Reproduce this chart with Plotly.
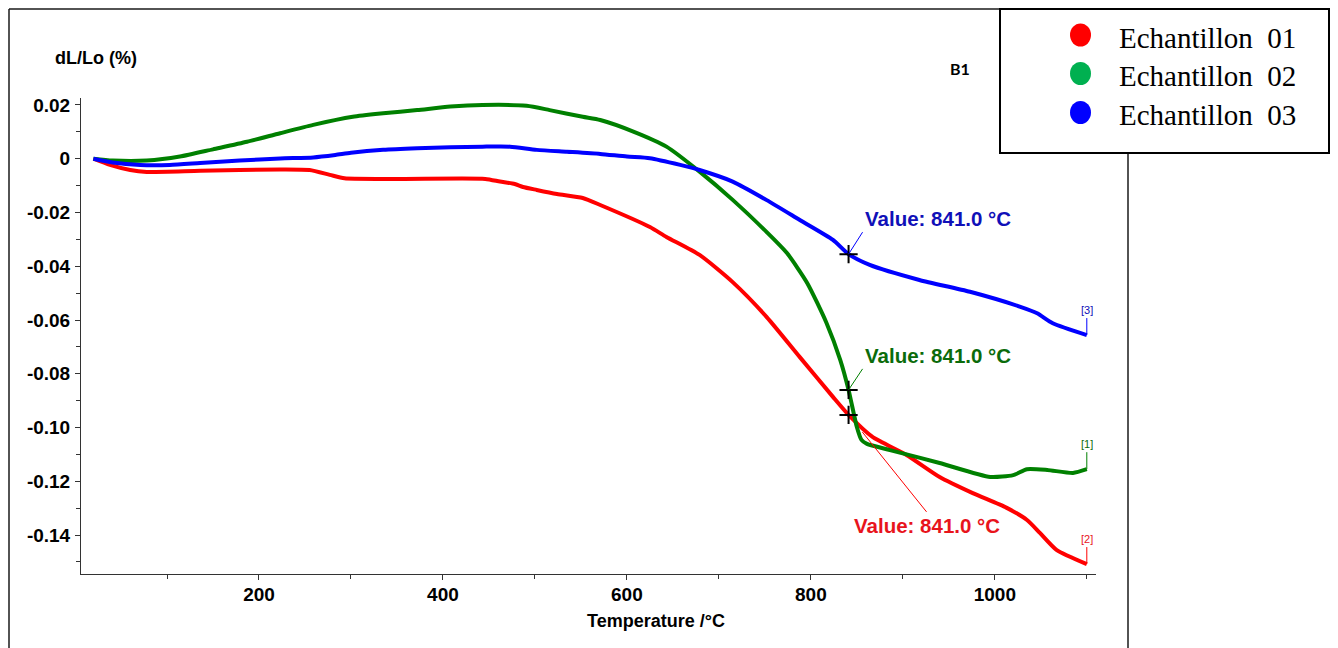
import plotly.graph_objects as go

# ---------------- data ----------------
temp_red = [20, 38, 60, 78, 136, 223, 255, 277, 293, 353, 446, 462, 478, 487, 502, 524, 552, 571,
            625, 643, 679, 715, 752, 788, 824, 841, 867, 904, 940, 976, 1013, 1035, 1049, 1067, 1100]
dl_red = [0, -0.0023, -0.0042, -0.0049, -0.0045, -0.0040, -0.0042, -0.0060, -0.0073, -0.0075, -0.0075,
          -0.0085, -0.0094, -0.0105, -0.0116, -0.0131, -0.0146, -0.0172, -0.0254, -0.0291, -0.0358,
          -0.0459, -0.0589, -0.0738, -0.0886, -0.0953, -0.1035, -0.1102, -0.1184, -0.1244, -0.1299,
          -0.1344, -0.1392, -0.1455, -0.1508]

temp_green = [20, 41, 78, 114, 150, 187, 223, 259, 302, 335, 372, 408, 443, 491, 516, 552, 571, 607,
              643, 679, 715, 752, 774, 796, 817, 832, 841, 850, 855, 861, 886, 940, 995, 1020, 1035,
              1057, 1085, 1100]
dl_green = [0, -0.0007, -0.0007, 0.0008, 0.0035, 0.0063, 0.0095, 0.0126, 0.0156, 0.0169, 0.0181,
            0.0194, 0.0200, 0.0197, 0.0181, 0.0156, 0.0144, 0.0101, 0.0045, -0.0048, -0.0153,
            -0.0273, -0.0351, -0.0462, -0.0611, -0.0749, -0.0860, -0.0998, -0.1046, -0.1061,
            -0.1084, -0.1132, -0.1184, -0.1177, -0.1155, -0.1158, -0.1169, -0.1155]

temp_blue = [20, 41, 71, 103, 136, 179, 223, 259, 283, 300, 335, 372, 408, 443, 473, 502, 535, 571,
             600, 625, 658, 679, 715, 752, 788, 824, 841, 864, 918, 973, 1027, 1046, 1063, 1100]
dl_blue = [0, -0.0014, -0.0023, -0.0023, -0.0016, -0.0007, 0.0001, 0.0005, 0.0014, 0.0022, 0.0033,
           0.0039, 0.0043, 0.0045, 0.0045, 0.0033, 0.0026, 0.0018, 0.0008, 0.0002, -0.0023, -0.0042,
           -0.0085, -0.0154, -0.0228, -0.0302, -0.0355, -0.0395, -0.0451, -0.0495, -0.0550, -0.0575,
           -0.0612, -0.0656]

series_names = ["Echantillon\u00a0\u00a001", "Echantillon\u00a0\u00a002", "Echantillon\u00a0\u00a003"]
end_labels = ["[2]", "[1]", "[3]"]
marker_temp = 841.0
marker_dl = [-0.0953, -0.0860, -0.0355]   # red, green, blue
marker_text = "Value: 841.0 °C"

x_tickvals = [200, 400, 600, 800, 1000]
x_ticktext = ["200", "400", "600", "800", "1000"]
y_tickvals = [0.02, 0, -0.02, -0.04, -0.06, -0.08, -0.10, -0.12, -0.14]
y_ticktext = ["0.02", "0", "-0.02", "-0.04", "-0.06", "-0.08", "-0.10", "-0.12", "-0.14"]

# ---------------- styling ----------------
line_colors = ["#ff0000", "#008000", "#0000ff"]
legend_colors = ["#ff0000", "#00b050", "#0000ff"]
text_colors = ["#e8141c", "#0b6b0b", "#1010b8"]

OFF = 8  # page body margin
W, H = 1338 - OFF, 648 - OFF
# plot area in screen pixels
SL, SR, ST, SB = 81, 1096, 98, 574
L, R, T, B = SL - OFF, SR - OFF, ST - OFF, SB - OFF


def px(x):
    return (x - OFF - L) / (R - L)


def py(y):
    return (B - (y - OFF)) / (B - T)


FONT = "Liberation Sans, Arial, sans-serif"

fig = go.Figure()
temps = [temp_red, temp_green, temp_blue]
dls = [dl_red, dl_green, dl_blue]
for t, d, c, n in zip(temps, dls, line_colors, series_names):
    fig.add_trace(go.Scatter(x=t, y=d, mode="lines", name=n, showlegend=False,
                             line=dict(color=c, width=4, shape="spline", smoothing=0.6)))

fig.add_trace(go.Scatter(x=[marker_temp] * 3, y=marker_dl, mode="markers", showlegend=False,
                         marker=dict(symbol="cross-thin", size=13, color="black",
                                     line=dict(color="black", width=2))))

annotations = []
# "Value" annotations
ann_offsets = [(78, 97, "center", "top", 22), (14, -21, "left", "bottom", 0), (14, -22, "left", "bottom", 0)]
for i, (ax, ay, xa, ya, so) in enumerate(ann_offsets):
    annotations.append(dict(x=marker_temp, y=marker_dl[i], xref="x", yref="y", text=marker_text,
                            showarrow=True, arrowhead=0, arrowwidth=1, arrowcolor=line_colors[i],
                            ax=ax, ay=ay, xanchor=xa, yanchor=ya, standoff=so,
                            font=dict(family=FONT, size=20.5, color=text_colors[i], weight="bold")))
# end labels
for i in range(3):
    annotations.append(dict(x=temps[i][-1], y=dls[i][-1], xref="x", yref="y", text=end_labels[i],
                            showarrow=True, arrowhead=0, arrowwidth=1, arrowcolor=line_colors[i],
                            ax=0, ay=-17, xanchor="center", yanchor="bottom",
                            font=dict(family=FONT, size=11, color=text_colors[i])))

# axis titles and label
annotations.append(dict(x=px(96), y=py(58), xref="paper", yref="paper", text="dL/Lo (%)",
                        showarrow=False, xanchor="center", yanchor="middle",
                        font=dict(family=FONT, size=18, color="black", weight="bold")))
annotations.append(dict(x=px(656), y=py(621), xref="paper", yref="paper", text="Temperature /°C",
                        showarrow=False, xanchor="center", yanchor="middle",
                        font=dict(family=FONT, size=18, color="black", weight="bold")))
annotations.append(dict(x=px(960), y=py(68), xref="paper", yref="paper", text="B1",
                        showarrow=False, xanchor="center", yanchor="middle",
                        font=dict(family="Lato, sans-serif", size=16, color="black", weight="bold")))

# outer frame and legend (custom box)
shapes = []
shapes.append(dict(type="line", xref="paper", yref="paper", x0=px(9), y0=py(9), x1=px(9), y1=py(700),
                   line=dict(color="#1a1a1a", width=1.5)))
shapes.append(dict(type="line", xref="paper", yref="paper", x0=px(9), y0=py(9), x1=px(1000), y1=py(9),
                   line=dict(color="#1a1a1a", width=1.5)))
shapes.append(dict(type="line", xref="paper", yref="paper", x0=px(1128), y0=py(153), x1=px(1128), y1=py(700),
                   line=dict(color="#1a1a1a", width=1.5)))
shapes.append(dict(type="rect", xref="paper", yref="paper", x0=px(1000), y0=py(9), x1=px(1329), y1=py(153),
                   line=dict(color="black", width=2), fillcolor="white"))
row_centers = [35, 73.5, 112.5]
for i, yc in enumerate(row_centers):
    shapes.append(dict(type="circle", xref="paper", yref="paper",
                       x0=px(1070), x1=px(1091), y0=py(yc - 11.5), y1=py(yc + 11.5),
                       fillcolor=legend_colors[i], line=dict(width=0)))
    annotations.append(dict(x=px(1117), y=py(yc + 2.5), xref="paper", yref="paper", text=series_names[i],
                            showarrow=False, xanchor="left", yanchor="middle",
                            font=dict(family="Liberation Serif, Times New Roman, serif", size=29,
                                      color="black")))

fig.update_layout(
    width=W, height=H,
    margin=dict(l=L, r=W - R, t=T, b=H - B, pad=0),
    paper_bgcolor="white", plot_bgcolor="white",
    showlegend=False,
    shapes=shapes,
    annotations=annotations,
    xaxis=dict(range=[6.5, 1110], showgrid=False, zeroline=False, showline=True,
               linecolor="#333333", linewidth=1, ticks="outside", ticklen=5, tickwidth=1,
               tickcolor="#333333", tickvals=x_tickvals, ticktext=x_ticktext,
               ticklabelstandoff=-2,
               minor=dict(ticks="outside", ticklen=4, tickwidth=1, tickcolor="#333333",
                          dtick=100, tick0=0, showgrid=False),
               tickfont=dict(family=FONT, size=19, color="black", weight="bold")),
    yaxis=dict(range=[-0.1545, 0.0226], showgrid=False, zeroline=False, showline=True,
               linecolor="#333333", linewidth=1, ticks="outside", ticklen=5, tickwidth=1,
               tickcolor="#333333", tickvals=y_tickvals, ticktext=y_ticktext,
               ticklabelstandoff=1,
               minor=dict(ticks="outside", ticklen=4, tickwidth=1, tickcolor="#333333",
                          dtick=0.01, tick0=0, showgrid=False),
               tickfont=dict(family=FONT, size=19, color="black", weight="bold")),
)

fig.write_html("out.html")
